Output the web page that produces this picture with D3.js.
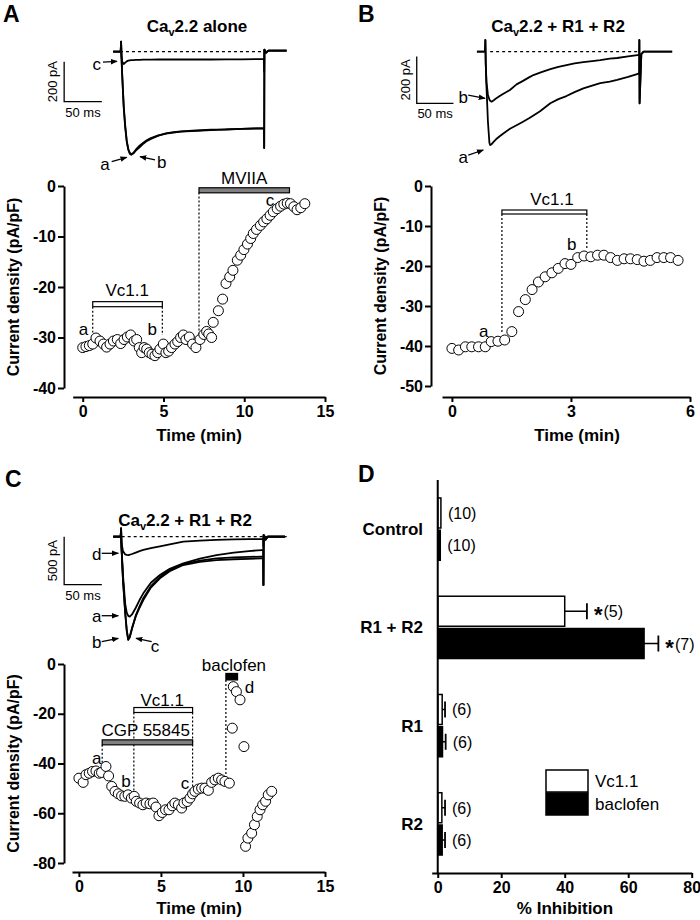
<!DOCTYPE html>
<html><head><meta charset="utf-8">
<script src="https://cdn.jsdelivr.net/npm/d3@7"></script>
<style>
body{margin:0;background:#fff;}
svg{display:block;}
</style></head><body>
<script>
// ================= DATA =================
// Panel A time course (min, pA/pF)
const aTime = [0,0.2,0.41,0.62,0.82,1.07,1.28,1.48,1.69,1.9,2.14,2.35,2.56,2.76,2.97,3.18,3.34,3.5,3.65,3.8,3.96,4.12,4.29,4.47,4.64,4.78,4.99,5.15,5.32,5.5,5.71,5.88,6.06,6.23,6.39,6.6,6.8,7.01,7.26,7.5,7.67,7.8,7.98,8.08,8.4,8.66,8.87,9.1,9.3,9.57,9.78,9.98,10.2,10.4,10.56,10.76,11.0,11.2,11.4,11.6,11.8,12.04,12.25,12.45,12.66,12.86,13.07,13.27,13.5,13.75];
const aCurrent = [-32,-31.8,-31.6,-31.3,-30.1,-30.7,-31.3,-31.9,-31.3,-30.7,-30.4,-31.2,-30.4,-29.9,-29.5,-30.7,-30.4,-32,-33,-32,-32.3,-33,-33.3,-33.6,-33,-32.3,-31.3,-33,-32.7,-32,-31.3,-30.8,-30,-29.5,-30.4,-29.9,-31.3,-32,-30.4,-29.4,-28.8,-29.3,-30,-27,-24.7,-22.4,-19.3,-18,-16.7,-14.7,-13.7,-12.6,-11.5,-10.4,-9.4,-8.6,-7.8,-7.1,-6.5,-5.8,-5.1,-4.5,-4,-3.6,-3.4,-3.5,-4.1,-4.7,-4.3,-3.5];
// Panel B time course
const bTime = [0,0.17,0.34,0.5,0.67,0.84,0.99,1.16,1.33,1.51,1.68,1.85,2.02,2.18,2.35,2.52,2.68,2.85,3.0,3.17,3.33,3.5,3.67,3.83,4.0,4.17,4.34,4.5,4.67,4.84,5.0,5.17,5.34,5.51,5.7];
const bCurrent = [-40.6,-41,-40.2,-40.2,-40.2,-40.2,-38.9,-38.8,-38.5,-36.4,-31.4,-28.4,-25.9,-24,-22.7,-21.7,-20.6,-19.4,-19.6,-17.9,-17.5,-17.7,-17.3,-17.3,-17.9,-18.6,-18.2,-18.2,-18.4,-18.8,-18.6,-17.9,-17.9,-17.9,-18.6];
// Panel C time course
const cTime = [0,0.26,0.43,0.63,0.83,1.04,1.24,1.38,1.65,1.81,2.0,2.2,2.4,2.6,2.8,3.0,3.2,3.37,3.5,3.7,3.9,4.1,4.33,4.53,4.7,4.88,5.08,5.28,5.49,5.69,5.85,6.06,6.26,6.4,6.6,6.77,6.93,7.07,7.28,7.48,7.68,7.89,8.09,8.29,8.5,8.7,8.9,9.17,9.35,9.41,9.6,9.82,10.06,10.16,10.3,10.53,10.7,10.87,11.04,11.2,11.38,11.54,11.75];
const cCurrent = [-45.9,-47.6,-44.5,-43.9,-43.2,-43,-43.9,-43.6,-41.2,-45,-49.2,-51.2,-52.2,-53,-53.2,-52.6,-53.9,-53.2,-55.2,-55.9,-56.6,-55.9,-56.2,-55.9,-57.5,-61,-59.7,-58.6,-58.6,-57,-55.9,-56.6,-57.9,-55.9,-55.3,-53.9,-52.2,-51.2,-50.3,-49.9,-49.9,-50.8,-47.6,-46.6,-45.9,-46.6,-47.2,-47.9,-25.8,-9.1,-11.1,-14.4,-33.2,-73.3,-70,-68,-64.6,-61.3,-58.6,-56.6,-55.2,-52.6,-51.2];

// Current traces (ms, pA)
const traceATime = [-10,0,0.5,1,2,4,6,8,10,12,14,17,20,25,30,35,40,50,60,70,80,100,120,140,160,180,190,190.3,190.6,193,196,220];
const traceA_a = [0,0,50,-20,-120,-280,-380,-450,-490,-510,-516,-505,-490,-470,-455,-442,-432,-418,-410,-405,-400,-396,-392,-388,-386,-384,-383,-481,10,-5,5,5];
const traceA_b = [0,0,50,-20,-115,-270,-370,-445,-485,-505,-512,-508,-495,-478,-460,-446,-436,-420,-408,-402,-398,-394,-390,-389,-386,-383,-382,-481,10,-5,5,5];
const traceA_c = [0,0,50,-20,-50,-62,-55,-48,-45,-43,-42,-42,-41,-41,-40,-40,-40,-39,-39,-39,-39,-38,-39,-38,-38,-37,-37,-100,10,-3,5,5];

const traceBTime = [-11,0,0.5,1,2,4,6,7,9,12,15,20,25,34,43,50,60,66,75,89,100,111,122,134,146,157,170,180,195,205,210,210.3,210.6,213,216,255];
const traceB_a = [0,0,50,-50,-150,-300,-390,-400,-396,-385,-375,-362,-350,-330,-315,-303,-285,-273,-255,-221,-203,-190,-173,-157,-145,-135,-128,-121,-108,-98,-93,50,-221,-10,0,0];
const traceB_b = [0,0,50,-50,-130,-185,-205,-210,-214,-208,-200,-190,-180,-164,-140,-128,-110,-100,-90,-75,-65,-57,-50,-45,-40,-36,-30,-27,-20,-16,-14,50,-221,-10,0,0];

const traceCTime = [-10,0,0.5,1,3,6,8,10,12,15,20,25,30,40,52,65,83,105,127,150,170,187,189,189.3,189.6,192,195,218];
const traceC_a = [0,0,87,-100,-400,-700,-790,-825,-833,-810,-740,-660,-590,-480,-399,-335,-278,-228,-191,-165,-150,-139,-139,-503,17,-30,0,0];
const traceC_b = [0,0,87,-100,-450,-800,-980,-1076,-1040,-950,-830,-740,-660,-530,-434,-360,-295,-262,-243,-235,-230,-226,-226,-503,17,-30,0,0];
const traceC_c = [0,0,87,-100,-440,-790,-970,-1070,-1050,-960,-820,-725,-640,-515,-420,-345,-285,-250,-225,-215,-210,-208,-208,-503,17,-30,0,0];
const traceC_d = [0,0,87,-60,-150,-185,-189,-191,-188,-180,-165,-150,-138,-120,-100,-80,-52,-40,-33,-28,-26,-25,-25,-100,17,-5,0,0];

// Panel D
const dCategories = ["Control","R1 + R2","R1","R2"];
const dSeries = ["Vc1.1","baclofen"];
const dVc11Mean = [1.0,40,1.4,1.3];
const dVc11Err = [0,7,0.9,1.0];
const dVc11N = ["(10)","(5)","(6)","(6)"];
const dVc11Star = [false,true,false,false];
const dBaclofenMean = [0.8,65,1.5,1.4];
const dBaclofenErr = [0,4.5,1.0,0.9];
const dBaclofenN = ["(10)","(7)","(6)","(6)"];
const dBaclofenStar = [false,true,false,false];

// tick values
const aXTicks = [0,5,10,15], aYTicks = [0,-10,-20,-30,-40];
const bXTicks = [0,3,6], bYTicks = [0,-10,-20,-30,-40,-50];
const cXTicks = [0,5,10,15], cYTicks = [0,-20,-40,-60,-80];
const dXTicks = [0,20,40,60,80];

// ================= DRAWING =================
const FONT = '"Liberation Sans", Arial, Helvetica, sans-serif';
const svg = d3.select("body").append("svg").attr("width",700).attr("height",920)
  .style("font-family",FONT);
const defs = svg.append("defs");
defs.append("marker").attr("id","arr").attr("viewBox","0 0 10 10")
  .attr("refX",9).attr("refY",5).attr("markerWidth",7).attr("markerHeight",7)
  .attr("markerUnits","userSpaceOnUse").attr("orient","auto")
  .append("path").attr("d","M0,1 L10,5 L0,9 Z").attr("fill","#000");

function styleAxis(sel){
  sel.attr("font-family",FONT).attr("font-size",16).attr("font-weight","bold");
  sel.select(".domain").attr("stroke","#000").attr("stroke-width",2);
  sel.selectAll(".tick line").attr("stroke","#000").attr("stroke-width",2);
  sel.selectAll(".tick text").attr("fill","#000");
}
function txt(g,x,y,s,o={}){
  return g.append("text").attr("x",x).attr("y",y).text(s)
    .attr("font-size",o.size||16).attr("font-weight",o.weight||"normal")
    .attr("text-anchor",o.anchor||"middle").attr("fill","#000");
}
function caTitle(g,x,y,rest){
  const t = g.append("text").attr("x",x).attr("y",y).attr("text-anchor","middle")
    .attr("font-size",17).attr("font-weight","bold");
  t.append("tspan").text("Ca");
  t.append("tspan").text("v").attr("font-size",11).attr("dy",4);
  t.append("tspan").text(rest).attr("dy",-4);
}

function scatterPanel(o){
  const g = svg.append("g");
  const x = d3.scaleLinear().domain(o.xDomain).range(o.xRange);
  const y = d3.scaleLinear().domain(o.yDomain).range(o.yRange);
  g.append("g").attr("transform",`translate(${o.yAxisX},0)`)
    .call(d3.axisLeft(y).tickValues(o.yTicks).tickSize(6).tickPadding(2).tickSizeOuter(0).tickFormat(d=>String(d)))
    .call(styleAxis);
  g.append("g").attr("transform",`translate(0,${o.xAxisY})`)
    .call(d3.axisBottom(x).tickValues(o.xTicks).tickSize(5).tickPadding(4).tickSizeOuter(0).tickFormat(d=>String(d)))
    .call(styleAxis);
  g.append("text").attr("transform",`translate(${o.yTitleX},${(o.yRange[0]+o.yRange[1])/2}) rotate(-90)`)
    .attr("text-anchor","middle").attr("font-size",16).attr("font-weight","bold").text("Current density (pA/pF)");
  txt(g,o.xTitleX,o.xAxisY+o.xTitleDy,"Time (min)",{weight:"bold",size:17});
  return {g,x,y};
}
function drawPoints(p,t,v){
  p.g.append("g").selectAll("circle").data(t).join("circle")
    .attr("cx",(d)=>p.x(d)).attr("cy",(d,i)=>p.y(v[i])).attr("r",5)
    .attr("fill","#fff").attr("stroke","#000").attr("stroke-width",1);
}
function appBar(p,t0,t1,yTop,yBot,fill){
  p.g.append("rect").attr("x",p.x(t0)).attr("y",p.y(yTop)).attr("width",p.x(t1)-p.x(t0))
    .attr("height",p.y(yBot)-p.y(yTop)).attr("fill",fill).attr("stroke","#000").attr("stroke-width",1.2);
}
function dashV(p,t,y0,y1){
  p.g.append("line").attr("x1",p.x(t)).attr("x2",p.x(t)).attr("y1",p.y(y0)).attr("y2",p.y(y1))
    .attr("stroke","#000").attr("stroke-width",1.2).attr("stroke-dasharray","2,2");
}
function lbl(p,t,v,s){ txt(p.g,p.x(t),p.y(v)+6,s,{size:17}); }

// ---- Panel A scatter ----
const pA = scatterPanel({xDomain:[-0.62,15],xRange:[72.7,325],yDomain:[-40,0],yRange:[388,186],
  yAxisX:64,xAxisY:397,xTicks:aXTicks,yTicks:aYTicks,yTitleX:19,xTitleX:199,xTitleDy:44});
dashV(pA,0.62,-23.9,-29); dashV(pA,4.93,-23.9,-29.5); dashV(pA,7.2,-1.3,-29.8);
appBar(pA,0.62,4.93,-22.9,-23.9,"#fff");
appBar(pA,7.2,12.8,-0.35,-1.35,"#808080");
drawPoints(pA,aTime,aCurrent);
lbl(pA,2.75,-20.6,"Vc1.1"); lbl(pA,10.0,1.5,"MVIIA");
lbl(pA,0.05,-28.3,"a"); lbl(pA,4.3,-28.3,"b"); lbl(pA,11.6,-2.8,"c");

// ---- Panel B scatter ----
const pB = scatterPanel({xDomain:[-0.25,6],xRange:[442,690],yDomain:[-50,0],yRange:[386,186],
  yAxisX:431,xAxisY:397,xTicks:bXTicks,yTicks:bYTicks,yTitleX:386,xTitleX:577,xTitleDy:44});
dashV(pB,1.26,-7,-36.9); dashV(pB,3.4,-7,-16);
appBar(pB,1.26,3.4,-6,-7,"#fff");
drawPoints(pB,bTime,bCurrent);
lbl(pB,2.52,-3.2,"Vc1.1"); lbl(pB,0.8,-36.2,"a"); lbl(pB,3.02,-14.6,"b");

// ---- Panel C scatter ----
const pC = scatterPanel({xDomain:[-0.42,15],xRange:[72,325],yDomain:[-80,0],yRange:[863,664],
  yAxisX:64,xAxisY:872,xTicks:cXTicks,yTicks:cYTicks,yTitleX:19,xTitleX:199,xTitleDy:42});
dashV(pC,1.42,-32.5,-42.5); dashV(pC,3.35,-19.5,-52); dashV(pC,6.93,-19.5,-51); dashV(pC,8.96,-6.4,-46.5);
appBar(pC,1.42,6.93,-30.5,-32.5,"#808080");
appBar(pC,3.35,6.93,-17.5,-19.5,"#fff");
appBar(pC,8.96,9.67,-3.8,-6.4,"#000");
drawPoints(pC,cTime,cCurrent);
lbl(pC,4.07,-26.5,"CGP 55845"); lbl(pC,5.08,-14.4,"Vc1.1"); lbl(pC,9.45,-0.4,"baclofen");
lbl(pC,1.08,-37.9,"a"); lbl(pC,2.87,-47.2,"b"); lbl(pC,6.46,-47.9,"c"); lbl(pC,10.4,-9.1,"d");

// ---- Traces ----
function tracePanel(o){
  const g = svg.append("g");
  const x = d3.scaleLinear().domain([0,50]).range([o.x0,o.x0+o.px50]);
  const y = d3.scaleLinear().domain([0,-o.barPA]).range([o.y0,o.y0+o.pxBar]);
  g.append("line").attr("x1",x(o.base[0])).attr("x2",x(o.base[1])).attr("y1",y(0)).attr("y2",y(0))
    .attr("stroke","#000").attr("stroke-width",1.3).attr("stroke-dasharray","3,3");
  const line = d3.line().x(d=>x(d[0])).y(d=>y(d[1]));
  o.traces.forEach(tr=>{
    g.append("path").datum(o.time.map((t,i)=>[t,tr[i]])).attr("d",line)
      .attr("fill","none").attr("stroke","#000").attr("stroke-width",1.8).attr("stroke-linejoin","round");
  });
  const sb = o.sb;
  g.append("path").attr("d",`M${x(sb.t)},${y(sb.top)} L${x(sb.t)},${y(sb.top-o.barPA)} L${x(sb.t+50)},${y(sb.top-o.barPA)}`)
    .attr("fill","none").attr("stroke","#000").attr("stroke-width",1.3);
  g.append("text").attr("transform",`translate(${x(sb.t)-7},${y(sb.top-o.barPA/2)}) rotate(-90)`)
    .attr("text-anchor","middle").attr("font-size",13).text(`${o.barPA} pA`);
  txt(g,x(sb.t+25),y(sb.top-o.barPA)+15,"50 ms",{size:13});
  o.arrows.forEach(a=>{
    txt(g,x(a.lt),y(a.lv)+5,a.s,{size:17});
    g.append("line").attr("x1",x(a.t0)).attr("y1",y(a.v0)).attr("x2",x(a.t1)).attr("y2",y(a.v1))
      .attr("stroke","#000").attr("stroke-width",1.3).attr("marker-end","url(#arr)");
  });
  return g;
}
tracePanel({x0:120.7,px50:37.7,y0:51.7,barPA:200,pxBar:40,base:[-1,194],time:traceATime,
  traces:[traceA_c,traceA_a,traceA_b],sb:{t:-75,top:-50},
  arrows:[{s:"c",lt:-31.8,lv:-66,t0:-23.5,v0:-52,t1:-4.9,v1:-48},
          {s:"a",lt:-20.7,lv:-566,t0:-12,v0:-550,t1:8,v1:-528},
          {s:"b",lt:54.4,lv:-556,t0:45.5,v0:-541,t1:25.6,v1:-525}]});
tracePanel({x0:485,px50:36.7,y0:51.7,barPA:200,pxBar:46.7,base:[7,211],time:traceBTime,
  traces:[traceB_a,traceB_b],sb:{t:-93,top:-21},
  arrows:[{s:"b",lt:-29.7,lv:-198,t0:-22.8,v0:-186,t1:0,v1:-200},
          {s:"a",lt:-29.7,lv:-455,t0:-22.8,v0:-443,t1:-2.3,v1:-421}]});
tracePanel({x0:120.7,px50:37.7,y0:536.7,barPA:500,pxBar:48,base:[1.3,222],time:traceCTime,
  traces:[traceC_d,traceC_a,traceC_b,traceC_c],sb:{t:-75,top:0},
  arrows:[{s:"d",lt:-31.8,lv:-191,t0:-25.2,v0:-173,t1:-3.2,v1:-173},
          {s:"a",lt:-31.8,lv:-836,t0:-25.2,v0:-823,t1:-3.2,v1:-823},
          {s:"b",lt:-31.8,lv:-1107,t0:-25.2,v0:-1094,t1:-3.2,v1:-1058},
          {s:"c",lt:45.5,lv:-1149,t0:41.1,v0:-1094,t1:20.3,v1:-1058}]});

caTitle(svg,197,32,"2.2 alone");
caTitle(svg,558,32,"2.2 + R1 + R2");
caTitle(svg,185,526,"2.2 + R1 + R2");

// ---- Panel D ----
(function(){
  const g = svg.append("g");
  const x = d3.scaleLinear().domain([-1.9,80]).range([431.7,691.7]);
  const y = d3.scaleBand().domain(dCategories).range([480,873]).paddingInner(0.366).paddingOuter(0.183);
  const ys = d3.scaleBand().domain(dSeries).range([0,y.bandwidth()]).paddingInner(0.07);
  const rows = [];
  dCategories.forEach((c,i)=>{
    rows.push({cat:c,ser:dSeries[0],m:dVc11Mean[i],e:dVc11Err[i],n:dVc11N[i],star:dVc11Star[i],fill:"#fff"});
    rows.push({cat:c,ser:dSeries[1],m:dBaclofenMean[i],e:dBaclofenErr[i],n:dBaclofenN[i],star:dBaclofenStar[i],fill:"#000"});
  });
  rows.forEach(r=>{
    const yy = y(r.cat)+ys(r.ser), h = ys.bandwidth(), cy = yy+h/2;
    g.append("rect").attr("x",x(0)).attr("y",yy).attr("width",x(r.m)-x(0)).attr("height",h)
      .attr("fill",r.fill).attr("stroke","#000").attr("stroke-width",1.5);
    if(r.e>0){
      g.append("line").attr("x1",x(r.m)).attr("x2",x(r.m+r.e)).attr("y1",cy).attr("y2",cy).attr("stroke","#000").attr("stroke-width",1.5);
      g.append("line").attr("x1",x(r.m+r.e)).attr("x2",x(r.m+r.e)).attr("y1",cy-8).attr("y2",cy+8).attr("stroke","#000").attr("stroke-width",1.8);
    }
    const t = g.append("text").attr("x",x(r.m+r.e)+7).attr("y",cy+6).attr("font-size",16).attr("text-anchor","start");
    if(r.star){
      t.append("tspan").text("*").attr("font-size",22).attr("font-weight","bold").attr("dy",5);
      t.append("tspan").text(r.n).attr("dy",-5).attr("dx",1);
    } else t.text(r.n);
  });
  g.append("line").attr("x1",x(0)).attr("x2",x(0)).attr("y1",480).attr("y2",873).attr("stroke","#000").attr("stroke-width",2);
  g.append("g").attr("transform","translate(0,873)")
    .call(d3.axisBottom(x).tickValues(dXTicks).tickSize(5).tickPadding(4).tickSizeOuter(0))
    .call(styleAxis);
  dCategories.forEach(c=>{
    txt(g,423,y(c)+y.bandwidth()/2+6,c,{weight:"bold",anchor:"end",size:17});
  });
  txt(g,565,914,"% Inhibition",{weight:"bold",size:17});
  const lg = g.append("g");
  [["#fff",dSeries[0]],["#000",dSeries[1]]].forEach((d,i)=>{
    lg.append("rect").attr("x",546).attr("y",770+i*23).attr("width",42).attr("height",22)
      .attr("fill",d[0]).attr("stroke","#000").attr("stroke-width",1.5);
    txt(lg,595,770+i*23+17,d[1],{anchor:"start",size:17});
  });
})();

// panel letters
[["A",3,22],["B",358,22],["C",5,487],["D",358,482]].forEach(d=>{
  txt(svg,d[1],d[2],d[0],{size:23,weight:"bold",anchor:"start"});
});
</script>
</body></html>
